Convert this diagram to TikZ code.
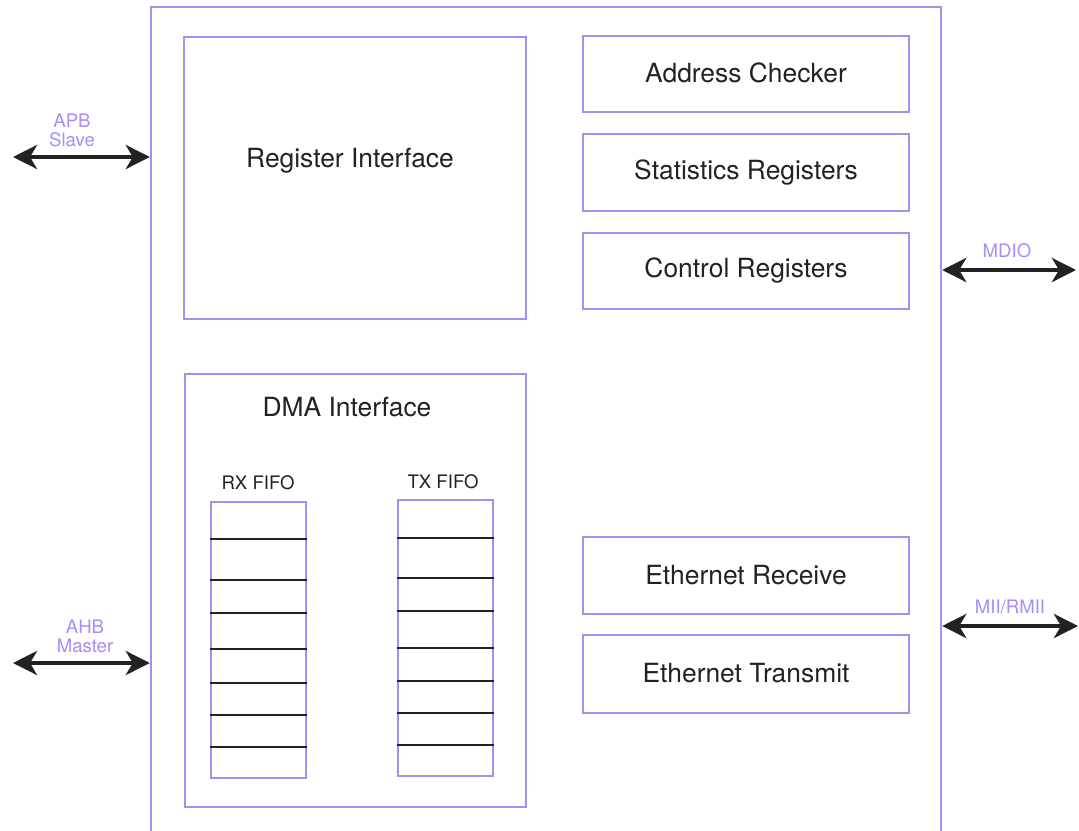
\documentclass[tikz,border=0pt]{standalone}
\usepackage{fontspec}
\setmainfont{TeX Gyre Heros}
\usepackage{tikz}
\usetikzlibrary{arrows.meta,positioning,calc}
\definecolor{violet}{HTML}{A88CF8}
\definecolor{ink}{HTML}{222222}

\begin{document}
\begin{tikzpicture}[
  x=0.5pt, y=-0.5pt,
  font=\fontsize{13.2}{15}\selectfont, text=ink,
  box/.style={draw=violet,line width=1.2pt,minimum width=163pt,minimum height=38pt,align=center},
  fifo/.style={draw=violet,line width=1.2pt,minimum width=47.5pt,minimum height=138pt},
  slot/.style={draw=ink,line width=1.1pt},
  small/.style={font=\fontsize{9.3}{10.5}\selectfont},
  port/.style={small,text=violet,align=center},
  arr/.style={{Stealth[length=12pt,width=12pt,inset=3.5pt]}-{Stealth[length=12pt,width=12pt,inset=3.5pt]},line width=2.3pt,draw=ink}
]
\useasboundingbox (0,0) rectangle (1079,830);
% outer core, open at the bottom
\node[box,minimum width=395pt,minimum height=436pt] (core) at (546,443) {};
% register side
\node[box,minimum width=171pt,minimum height=141pt] (reg) at (355,178) {};
\node (regtitle) at (350,161) {Register Interface};
\node[box] (addr) at (746,74) {\raisebox{1.5pt}{Address Checker}};
\node[box,minimum height=38.5pt] (stats) at (746,172.5) {Statistics Registers};
\node[box] (ctrl) at (746,271) {\raisebox{1pt}{Control Registers}};
% dma side
\node[box,minimum width=170.5pt,minimum height=216.5pt] (dma) at (355.5,590.5) {};
\node (dmatitle) at (347,407) {DMA Interface};
\node[fifo] (rxf) at (258.5,640) {};
\node[fifo] (txf) at (445.5,638) {};
\node[small] (rxtitle) at (258,483) {RX FIFO};
\node[small] (txtitle) at (443,482) {TX FIFO};
\foreach \y in {539,580,613,649,683,715,747}
  \draw[slot] (rxf.west |- 0,\y) -- (rxf.east |- 0,\y);
\foreach \y in {538,578,611,648,681,713,745}
  \draw[slot] (txf.west |- 0,\y) -- (txf.east |- 0,\y);
% ethernet
\node[box,minimum height=38.5pt] (erx) at (746,575.5) {\raisebox{1pt}{Ethernet Receive}};
\node[box,minimum height=39pt] (etx) at (746,674) {\raisebox{1pt}{Ethernet Transmit}};
% ports
\coordinate (apb) at (13,157);
\coordinate (ahb) at (13,663);
\coordinate (mdio) at (1076,270);
\coordinate (mii) at (1078,626);
\node[port] (apblbl) at (72,130) {APB\\[-1pt]Slave};
\node[port] (ahblbl) at (85,636) {AHB\\[-1pt]Master};
\node[port] (mdiolbl) at (1007,251) {MDIO};
\node[port] (miilbl) at (1010,607) {MII/RMII};
\draw[arr] (apb) -- (apb -| core.west);
\draw[arr] (ahb) -- (ahb -| core.west);
\draw[arr] (mdio -| core.east) -- (mdio);
\draw[arr] (mii -| core.east) -- (mii);
\end{tikzpicture}
\end{document}
